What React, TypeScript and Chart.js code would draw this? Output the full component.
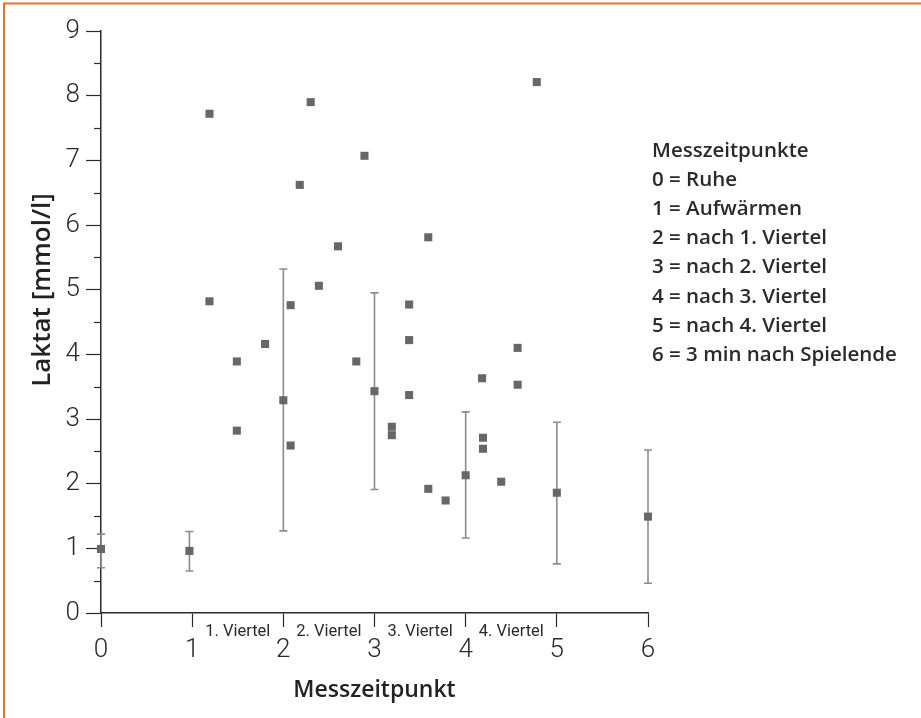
import React, { useEffect, useRef } from 'react';
import { Chart, registerables } from 'chart.js';

Chart.register(...registerables);

// ---- data ----
const xTickValues = [0, 1, 2, 3, 4, 5, 6];
const quarterLabels = ['1. Viertel', '2. Viertel', '3. Viertel', '4. Viertel'];

// means with error bars
const meanX = [0, 0.97, 2, 3, 4, 5, 6];
const meanY = [0.99, 0.96, 3.29, 3.43, 2.13, 1.86, 1.49];
const errLow = [0.7, 0.65, 1.27, 1.91, 1.16, 0.76, 0.46];
const errHigh = [1.22, 1.26, 5.32, 4.95, 3.11, 2.95, 2.52];

// individual measurements
const indivX = [
  1.19, 1.19, 1.49, 1.49, 1.8, 2.08, 2.08, 2.18, 2.3, 2.39, 2.6, 2.8, 2.89, 3.19,
  3.19, 3.38, 3.38, 3.38, 3.59, 3.59, 3.78, 4.18, 4.19, 4.19, 4.39, 4.57, 4.57, 4.78,
];
const indivY = [
  7.72, 4.82, 3.89, 2.82, 4.16, 4.76, 2.59, 6.62, 7.9, 5.06, 5.67, 3.89, 7.07, 2.88,
  2.75, 4.77, 4.22, 3.37, 5.81, 1.92, 1.74, 3.63, 2.71, 2.54, 2.03, 4.1, 3.53, 8.21,
];

const xTitle = 'Messzeitpunkt';
const yTitle = 'Laktat [mmol/l]';
const legendTitle = 'Messzeitpunkte';
const legendLines = [
  '0 = Ruhe',
  '1 = Aufwärmen',
  '2 = nach 1. Viertel',
  '3 = nach 2. Viertel',
  '4 = nach 3. Viertel',
  '5 = nach 4. Viertel',
  '6 = 3 min nach Spielende',
];

const TICK_FONT = 'Roboto, "Open Sans", sans-serif';
const BOLD_FONT = '"Open Sans", "Noto Sans", sans-serif';
const POINT_COLOR = '#67676b';
const ERR_COLOR = '#8c8c8c';
const AXIS_COLOR = '#2a2a2a';

const extrasPlugin = {
  id: 'extras',
  beforeDatasetsDraw(chart: any) {
    const { ctx } = chart;
    const xs = chart.scales.x;
    const ys = chart.scales.y;
    ctx.save();
    ctx.strokeStyle = ERR_COLOR;
    ctx.lineWidth = 1.6;
    for (let i = 0; i < meanX.length; i++) {
      const px = xs.getPixelForValue(meanX[i]);
      const pLo = ys.getPixelForValue(errLow[i]);
      const pHi = ys.getPixelForValue(errHigh[i]);
      ctx.beginPath();
      ctx.moveTo(px, pLo);
      ctx.lineTo(px, pHi);
      ctx.moveTo(px - 4, pLo);
      ctx.lineTo(px + 4, pLo);
      ctx.moveTo(px - 4, pHi);
      ctx.lineTo(px + 4, pHi);
      ctx.stroke();
    }
    ctx.restore();
  },
  afterDraw(chart: any) {
    const { ctx, chartArea } = chart;
    const xs = chart.scales.x;
    const ys = chart.scales.y;
    ctx.save();
    // minor y ticks
    ctx.strokeStyle = AXIS_COLOR;
    ctx.lineWidth = 1.2;
    for (let v = 0.5; v < 9; v += 1) {
      const py = Math.round(ys.getPixelForValue(v)) + 0.5;
      ctx.beginPath();
      ctx.moveTo(chartArea.left - 7, py);
      ctx.lineTo(chartArea.left, py);
      ctx.stroke();
    }
    // quarter labels between ticks 1..5
    ctx.fillStyle = '#2a2a2a';
    ctx.font = `16.5px ${TICK_FONT}`;
    ctx.textAlign = 'center';
    ctx.textBaseline = 'middle';
    quarterLabels.forEach((lab, i) => {
      const px = (xs.getPixelForValue(i + 1) + xs.getPixelForValue(i + 2)) / 2;
      ctx.fillText(lab, px, chartArea.bottom + 19);
    });
    // axis titles
    ctx.fillStyle = '#222';
    ctx.font = `600 23px ${BOLD_FONT}`;
    ctx.textAlign = 'center';
    ctx.textBaseline = 'alphabetic';
    ctx.fillText(xTitle, (chartArea.left + chartArea.right) / 2, 697);
    ctx.save();
    ctx.font = `600 26px ${BOLD_FONT}`;
    ctx.translate(50, 290);
    ctx.rotate(-Math.PI / 2);
    ctx.fillText(yTitle, 0, 0);
    ctx.restore();
    // legend text
    ctx.font = `600 20.5px ${BOLD_FONT}`;
    ctx.textAlign = 'left';
    ctx.textBaseline = 'middle';
    ctx.fillStyle = '#2a2a2a';
    ctx.fillText(legendTitle, 652, 151);
    legendLines.forEach((l, i) => ctx.fillText(l, 652, 180 + i * 29.2));
    // orange frame (top and left)
    ctx.strokeStyle = '#e8712c';
    ctx.lineWidth = 2;
    ctx.beginPath();
    ctx.moveTo(4, 718);
    ctx.lineTo(4, 3.5);
    ctx.lineTo(921, 3.5);
    ctx.stroke();
    ctx.restore();
  },
};

export default function App() {
  const ref = useRef<HTMLCanvasElement>(null);
  useEffect(() => {
    document.body.style.margin = '0';
    const chart = new Chart(ref.current as HTMLCanvasElement, {
      type: 'scatter',
      data: {
        datasets: [
          {
            label: 'Einzelwerte',
            data: indivX.map((x, i) => ({ x, y: indivY[i] })),
            pointStyle: 'rect',
            pointRadius: 5.7,
            pointHoverRadius: 5.7,
            backgroundColor: POINT_COLOR,
            borderColor: POINT_COLOR,
            borderWidth: 0,
          },
          {
            label: 'Mittelwert',
            data: meanX.map((x, i) => ({ x, y: meanY[i] })),
            pointStyle: 'rect',
            pointRadius: 5.7,
            pointHoverRadius: 5.7,
            backgroundColor: POINT_COLOR,
            borderColor: POINT_COLOR,
            borderWidth: 0,
          },
        ],
      },
      options: {
        responsive: false,
        animation: false,
        clip: false as any,
        layout: { padding: { left: 0, right: 273, top: 31, bottom: 0 } },
        plugins: { legend: { display: false }, tooltip: { enabled: false } },
        scales: {
          x: {
            type: 'linear',
            min: 0,
            max: 6,
            afterBuildTicks: (s: any) => {
              s.ticks = xTickValues.map((v) => ({ value: v }));
            },
            afterFit: (s: any) => {
              s.height = 105;
            },
            border: { color: AXIS_COLOR, width: 1.5 },
            grid: { drawOnChartArea: false, color: AXIS_COLOR, tickLength: 14, tickWidth: 1.2 },
            ticks: {
              color: '#2a2a2a',
              padding: 8,
              font: { family: TICK_FONT, size: 26, weight: '300' as any },
              maxRotation: 0,
            },
          },
          y: {
            type: 'linear',
            min: 0,
            max: 9,
            afterFit: (s: any) => {
              s.width = 101;
            },
            border: { color: AXIS_COLOR, width: 1.5 },
            grid: { drawOnChartArea: false, color: AXIS_COLOR, tickLength: 15, tickWidth: 1.2 },
            ticks: {
              stepSize: 1,
              color: '#2a2a2a',
              padding: 6,
              font: { family: TICK_FONT, size: 26, weight: '300' as any },
            },
          },
        },
      },
      plugins: [extrasPlugin],
    });
    return () => chart.destroy();
  }, []);
  return (
    <div style={{ width: 921, height: 718, background: '#fff' }}>
      <canvas ref={ref} width={921} height={718} />
    </div>
  );
}
